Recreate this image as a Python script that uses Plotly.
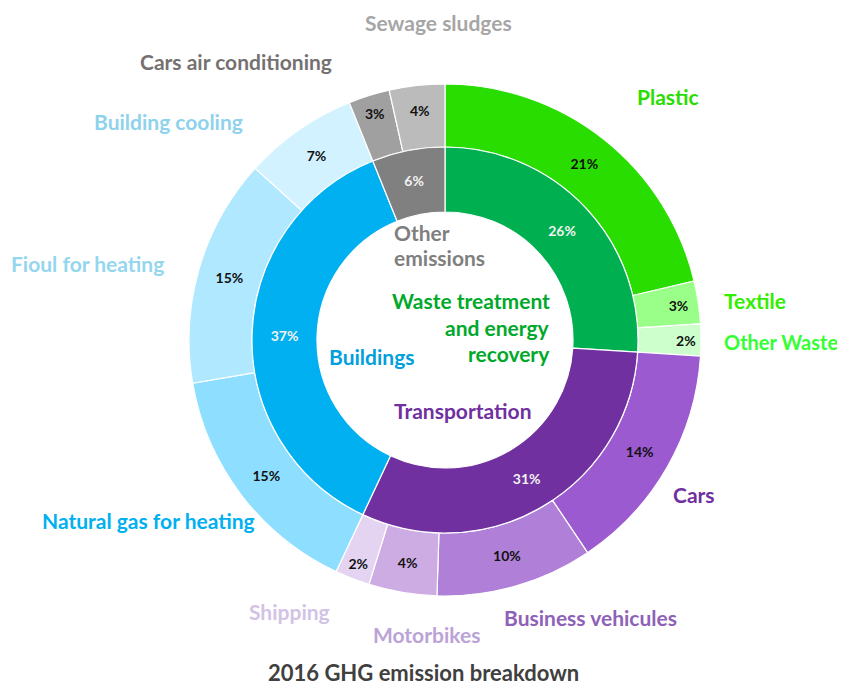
import plotly.graph_objects as go

# ---- data ----
inner_labels = ["Waste treatment and energy recovery", "Transportation", "Buildings", "Other emissions"]
inner_values = [26.0, 31.0, 36.9, 6.1]
inner_text = ["26%", "31%", "37%", "6%"]

outer_labels = ["Plastic", "Textile", "Other Waste", "Cars", "Business vehicules", "Motorbikes",
                "Shipping", "Natural gas for heating", "Fioul for heating", "Building cooling",
                "Cars air conditioning", "Sewage sludges"]
outer_values = [21.3, 2.7, 2.0, 14.6, 9.9, 4.3, 2.2, 15.3, 14.4, 7.2, 2.6, 3.5]
outer_text = ["21%", "3%", "2%", "14%", "10%", "4%", "2%", "15%", "15%", "7%", "3%", "4%"]

title_text = "2016 GHG emission breakdown"

# ---- styles ----
inner_colors = ["#00B050", "#7030A0", "#00B0F0", "#808080"]
outer_colors = ["#2ADD00", "#99FF88", "#CCFFCC", "#9B5ACF", "#B07FD8", "#CDABE3", "#E4D4F2",
                "#8EDFFF", "#B0E8FF", "#D2F2FF", "#A0A0A0", "#BBBBBB"]

OFF = 8                      # page body margin
W, H = 845 - OFF, 689 - OFF  # figure size
CX, CY = 445, 340            # chart centre in window pixels
R_OUT, R_MID, R_IN = 256, 193, 128


def px(x):
    return (x - OFF) / W


def py(y):
    return 1 - (y - OFF) / H


def dom(r):
    return dict(x=[px(CX - r), px(CX + r)], y=[py(CY + r), py(CY - r)])


FONT = "Lato"

fig = go.Figure()
fig.add_trace(go.Pie(
    labels=outer_labels, values=outer_values, text=outer_text, textinfo="text",
    sort=False, direction="clockwise", rotation=0, hole=R_MID / R_OUT,
    domain=dom(R_OUT), marker=dict(colors=outer_colors, line=dict(color="white", width=1.2)),
    textposition="inside", insidetextorientation="horizontal",
    textfont=dict(family=FONT, size=14, color="#111111", weight="bold"),
    hoverinfo="skip", showlegend=False,
))
fig.add_trace(go.Pie(
    labels=inner_labels, values=inner_values, text=inner_text, textinfo="text",
    sort=False, direction="clockwise", rotation=0, hole=R_IN / R_MID,
    domain=dom(R_MID), marker=dict(colors=inner_colors, line=dict(color="white", width=1.2)),
    textposition="inside", insidetextorientation="horizontal",
    textfont=dict(family=FONT, size=14, color="#F2F2F2", weight="bold"),
    hoverinfo="skip", showlegend=False,
))

outer_label_pos = [
    ("Sewage sludges", 438, 22, "#A6A6A6", "center", 21),
    ("Cars air conditioning", 236, 62, "#767171", "center", 21),
    ("Building cooling", 168, 122, "#8FD2EC", "center", 21),
    ("Fioul for heating", 87, 263, "#95D6EF", "center", 21),
    ("Natural gas for heating", 148, 520, "#00B0F0", "center", 21),
    ("Plastic", 668, 96, "#2ADD00", "center", 21),
    ("Textile", 755, 300, "#33EE00", "center", 21),
    ("Other Waste", 722, 342, "#33FF33", "left", 20),
    ("Cars", 694, 494, "#7030A0", "center", 21),
    ("Business vehicules", 590, 617, "#8E62B8", "center", 21),
    ("Motorbikes", 426, 634, "#BBA3D8", "center", 21),
    ("Shipping", 289, 611, "#D2C3E6", "center", 21),
]
center_label_pos = [
    ("Other", 392, 232, "#7F7F7F", "left", 21),
    ("emissions", 392, 258, "#7F7F7F", "left", 21),
    ("Waste treatment", 552, 300, "#00A92A", "right", 21),
    ("and energy", 552, 327, "#00A92A", "right", 21),
    ("recovery", 552, 354, "#00A92A", "right", 21),
    ("Buildings", 371, 356, "#00A0DC", "center", 21),
    ("Transportation", 462, 410, "#7030A0", "center", 21),
]

anns = []
for t, x, y, c, xa, s in outer_label_pos + center_label_pos:
    anns.append(dict(text=t, x=px(x), y=py(y), xref="paper", yref="paper",
                     xanchor=xa, yanchor="middle", showarrow=False,
                     font=dict(family=FONT, size=s, color=c, weight="bold")))
anns.append(dict(text=title_text, x=px(423), y=py(688), xref="paper", yref="paper",
                 xanchor="center", yanchor="bottom", showarrow=False,
                 font=dict(family=FONT, size=22, color="#404040", weight="bold")))

fig.update_layout(
    width=W, height=H, margin=dict(l=0, r=0, t=0, b=0),
    paper_bgcolor="white", plot_bgcolor="white",
    annotations=anns,
)

fig.write_html("out.html")
